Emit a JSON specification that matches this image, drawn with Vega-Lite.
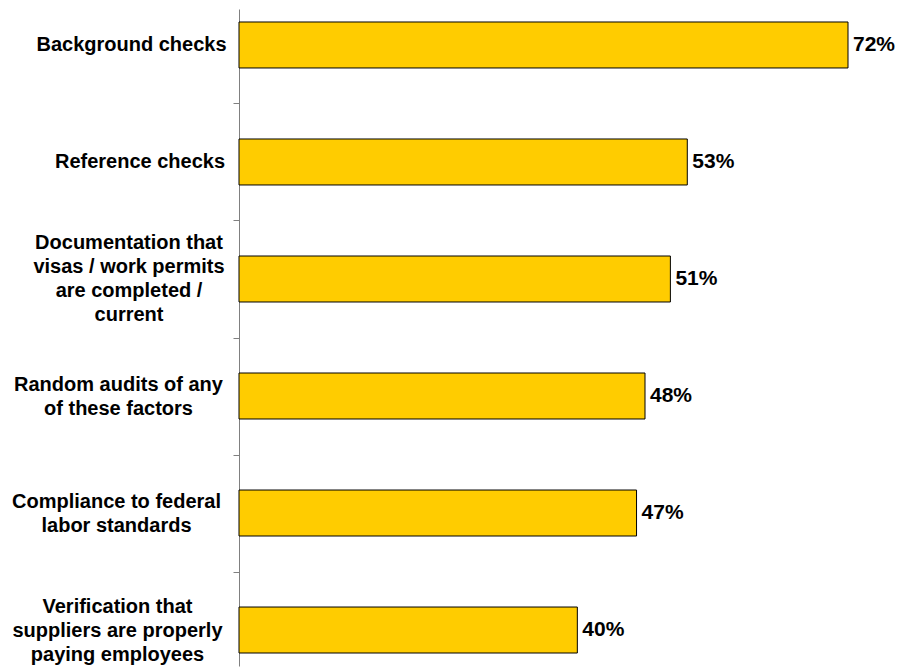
{
  "$schema": "https://vega.github.io/schema/vega-lite/v6.json",
  "autosize": {"type": "none"},
  "padding": {"left": 239, "top": 9, "right": 49, "bottom": 5},
  "width": 609,
  "height": 657,
  "background": "white",
  "config": {"view": {"stroke": null}, "font": "Liberation Sans"},
  "data": {
    "values": [
      {"item": "Background checks", "pct": 0.72},
      {"item": "Reference checks", "pct": 0.53},
      {"item": "Documentation that|visas / work permits|are completed /|current", "pct": 0.51},
      {"item": "Random audits of any|of these factors", "pct": 0.48},
      {"item": "Compliance to federal|labor standards", "pct": 0.47},
      {"item": "Verification that|suppliers are properly|paying employees", "pct": 0.40}
    ]
  },
  "encoding": {
    "y": {
      "field": "item",
      "type": "nominal",
      "sort": null,
      "scale": {"paddingInner": 0.607, "paddingOuter": 0.111},
      "axis": {
        "title": null,
        "labelExpr": "split(datum.value, '|')",
        "labelAlign": "center",
        "labelBaseline": "middle",
        "labelPadding": {
          "condition": [
            {"test": "indexof(datum.value, 'Reference') == 0", "value": 93.5},
            {"test": "indexof(datum.value, 'Documentation') == 0", "value": 104.5},
            {"test": "indexof(datum.value, 'Random') == 0", "value": 115},
            {"test": "indexof(datum.value, 'Compliance') == 0", "value": 117},
            {"test": "indexof(datum.value, 'Verification') == 0", "value": 116}
          ],
          "value": 102
        },
        "labelFont": "Liberation Sans",
        "labelFontWeight": "bold",
        "labelFontSize": 20,
        "labelLineHeight": 24,
        "labelColor": "#000000",
        "labelLimit": 0,
        "tickOffset": -58.5,
        "labelOffset": {
          "condition": [
            {"test": "length(split(datum.value, '|')) == 4", "value": 22.5},
            {"test": "length(split(datum.value, '|')) == 3", "value": 34.5},
            {"test": "length(split(datum.value, '|')) == 2", "value": 46.5}
          ],
          "value": 58.5
        },
        "tickSize": 6,
        "tickColor": "#808080",
        "domainColor": "#808080",
        "grid": false
      }
    },
    "x": {
      "field": "pct",
      "type": "quantitative",
      "scale": {"domain": [0, 0.72], "nice": false},
      "axis": null
    }
  },
  "layer": [
    {
      "mark": {"type": "bar", "fill": "#FFCC00", "stroke": "#000000", "strokeWidth": 1}
    },
    {
      "mark": {"type": "text", "align": "left", "baseline": "middle", "dx": 5, "font": "Liberation Sans", "fontWeight": "bold", "fontSize": 21, "color": "#000000"},
      "encoding": {"text": {"field": "pct", "type": "quantitative", "format": ".0%"}}
    }
  ]
}
